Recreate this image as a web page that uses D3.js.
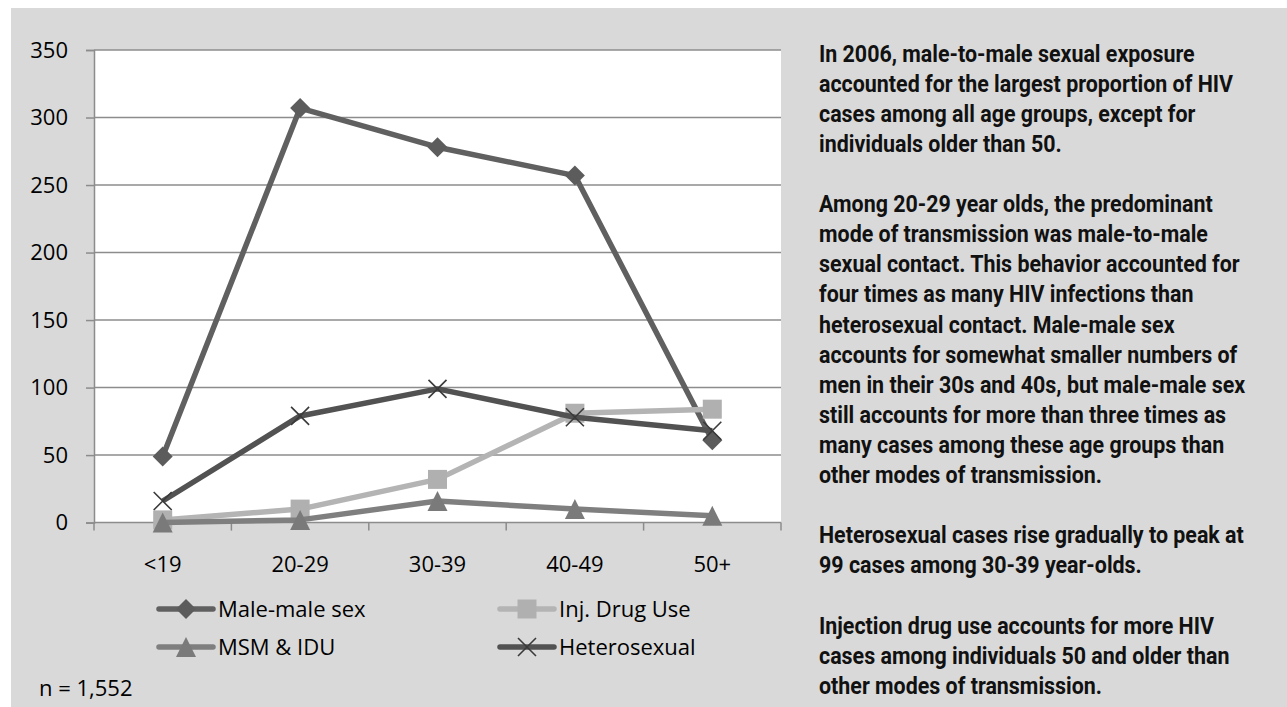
<!DOCTYPE html>
<html>
<head>
<meta charset="utf-8">
<script src="https://cdn.jsdelivr.net/npm/d3@7"></script>
<style>
  html, body { margin: 0; padding: 0; background: #fff; }
  svg { display: block; }
</style>
</head>
<body>
<svg id="chart" width="1287" height="707"></svg>
<script>
// categories and values
const ageGroups = ["<19", "20-29", "30-39", "40-49", "50+"];
const maleMale = [49, 307, 278, 257, 61];
const injDrug = [2, 10, 32, 81, 84];
const msmIdu = [0, 2, 16, 10, 5];
const hetero = [16, 79, 99, 78, 68];
const yTicks = [0, 50, 100, 150, 200, 250, 300, 350];

const seriesNames = ["Male-male sex", "Inj. Drug Use", "MSM & IDU", "Heterosexual"];

const notes = [
  "In 2006, male-to-male sexual exposure",
  "accounted for the largest proportion of HIV",
  "cases among all age groups, except for",
  "individuals older than 50.",
  "",
  "Among 20-29 year olds, the predominant",
  "mode of transmission was male-to-male",
  "sexual contact. This behavior accounted for",
  "four times as many HIV infections than",
  "heterosexual contact. Male-male sex",
  "accounts for somewhat smaller numbers of",
  "men in their 30s and 40s, but male-male sex",
  "still accounts for more than three times as",
  "many cases among these age groups than",
  "other modes of transmission.",
  "",
  "Heterosexual cases rise gradually to peak at",
  "99 cases among 30-39 year-olds.",
  "",
  "Injection drug use accounts for more HIV",
  "cases among individuals 50 and older than",
  "other modes of transmission."
];

const font = "'Open Sans', Lato, sans-serif";
const svg = d3.select("#chart");

// grey panel
svg.append("rect")
  .attr("x", 11).attr("y", 8)
  .attr("width", 1287 - 11).attr("height", 707 - 8)
  .attr("fill", "#d9d9d9");

const plotL = 94, plotR = 781, plotT = 50, plotB = 522.6;

const x = d3.scaleBand().domain(ageGroups).range([plotL, plotR]);
const y = d3.scaleLinear().domain([0, 350]).range([plotB, plotT]);
const cx = d => x(d) + x.bandwidth() / 2;

// plot area
svg.append("rect")
  .attr("x", plotL).attr("y", plotT)
  .attr("width", plotR - plotL).attr("height", plotB - plotT)
  .attr("fill", "#fff");

// gridlines
svg.append("g")
  .selectAll("line")
  .data(yTicks.filter(d => d > 0))
  .join("line")
  .attr("x1", plotL).attr("x2", plotR)
  .attr("y1", d => y(d)).attr("y2", d => y(d))
  .attr("stroke", "#8c8c8c").attr("stroke-width", 1.5);

// y axis
const yAxis = svg.append("g")
  .attr("transform", `translate(${plotL},0)`)
  .call(d3.axisLeft(y).tickValues(yTicks).tickSize(8).tickPadding(18));
yAxis.select(".domain").attr("stroke", "#8c8c8c").attr("stroke-width", 1.5);
yAxis.selectAll(".tick line").attr("stroke", "#8c8c8c").attr("stroke-width", 1.5);
yAxis.selectAll("text")
  .attr("font-family", font)
  .attr("font-size", 22).attr("fill", "#000");

// x axis: labels centred, ticks at band edges
const xAxis = svg.append("g")
  .attr("transform", `translate(0,${plotB})`)
  .call(d3.axisBottom(x).tickSize(0).tickPadding(34));
xAxis.select(".domain").remove();
xAxis.selectAll("text")
  .attr("font-family", font)
  .attr("font-size", 22).attr("fill", "#000");

const edges = ageGroups.map(d => x(d)).concat([plotR]);
svg.append("g")
  .selectAll("line")
  .data(edges)
  .join("line")
  .attr("x1", d => d).attr("x2", d => d)
  .attr("y1", plotB).attr("y2", plotB + 8)
  .attr("stroke", "#8c8c8c").attr("stroke-width", 1.5);
svg.append("line")
  .attr("x1", plotL).attr("x2", plotR)
  .attr("y1", plotB).attr("y2", plotB)
  .attr("stroke", "#8c8c8c").attr("stroke-width", 1.5);

// marker shapes
const markers = {
  diamond: "M0,-10L10,0L0,10L-10,0Z",
  square: "M-9.5,-9.5H9.5V9.5H-9.5Z",
  triangle: "M0,-10L10,10H-10Z",
  cross: "M-9,-9L9,9M-9,9L9,-9"
};

const series = [
  { name: seriesNames[0], values: maleMale, line: "#606060", fill: "#5c5c5c", marker: "diamond" },
  { name: seriesNames[1], values: injDrug, line: "#b4b4b4", fill: "#b0b0b0", marker: "square" },
  { name: seriesNames[2], values: msmIdu, line: "#7f7f7f", fill: "#7a7a7a", marker: "triangle" },
  { name: seriesNames[3], values: hetero, line: "#525252", fill: "none", marker: "cross" }
];

const line = d3.line()
  .x((d, i) => cx(ageGroups[i]))
  .y(d => y(d));

series.forEach(s => {
  const g = svg.append("g");
  g.append("path")
    .attr("d", line(s.values))
    .attr("fill", "none")
    .attr("stroke", s.line)
    .attr("stroke-width", 5.5)
    .attr("stroke-linejoin", "round");
  g.selectAll("path.mk")
    .data(s.values)
    .join("path")
    .attr("class", "mk")
    .attr("d", markers[s.marker])
    .attr("transform", (d, i) => `translate(${cx(ageGroups[i])},${y(d)})`)
    .attr("fill", s.fill)
    .attr("stroke", s.marker === "cross" ? "#3a3a3a" : "none")
    .attr("stroke-width", 1.6);
});

// legend
const legendPos = [
  { x: 159, y: 609 }, { x: 500, y: 609 },
  { x: 159, y: 647 }, { x: 500, y: 647 }
];
const legend = svg.append("g")
  .selectAll("g")
  .data(series)
  .join("g")
  .attr("transform", (d, i) => `translate(${legendPos[i].x},${legendPos[i].y})`);
legend.append("line")
  .attr("x1", 0).attr("x2", 54)
  .attr("stroke", d => d.line).attr("stroke-width", 5.5)
  .attr("stroke-linecap", "round");
legend.append("path")
  .attr("d", d => markers[d.marker])
  .attr("transform", "translate(27,0)")
  .attr("fill", d => d.fill)
  .attr("stroke", d => d.marker === "cross" ? "#3a3a3a" : "none")
  .attr("stroke-width", 1.6);
legend.append("text")
  .attr("x", 59).attr("dy", "0.36em")
  .attr("font-family", font)
  .attr("font-size", 22)
  .text(d => d.name);

// sample size
svg.append("text")
  .attr("x", 39).attr("y", 696)
  .attr("font-family", font)
  .attr("font-size", 22)
  .text("n = 1,552");

// notes on the right, squeezed horizontally to mimic a condensed face
const notesG = svg.append("g");
const noteText = notesG.selectAll("text")
  .data(notes)
  .join("text")
  .attr("x", 0)
  .attr("y", (d, i) => 53 + i * 30.1)
  .attr("dy", "0.36em")
  .attr("font-family", "Roboto, 'Liberation Sans', sans-serif")
  .attr("font-weight", "bold")
  .attr("font-size", 24)
  .attr("fill", "#111")
  .text(d => d);
const refWidth = noteText.filter((d, i) => i === 16).node().getComputedTextLength();
const squeeze = 425 / refWidth;
notesG.attr("transform", `translate(819,0) scale(${squeeze},1)`);
</script>
</body>
</html>
